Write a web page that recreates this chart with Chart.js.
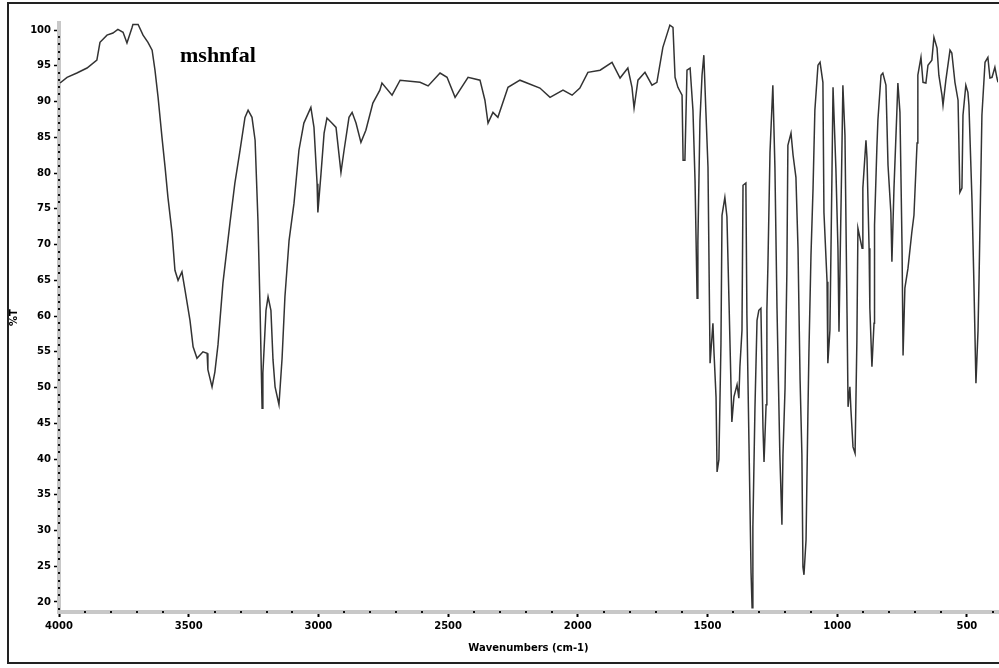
<!DOCTYPE html>
<html>
<head>
<meta charset="utf-8">
<script src="https://cdn.jsdelivr.net/npm/chart.js@4/dist/chart.umd.min.js"></script>
<style>
  html, body { margin: 0; padding: 0; background: #fff; }
  #spectrum { display: block; }
</style>
</head>
<body>
<canvas id="spectrum" width="999" height="668"></canvas>
<script>
// IR spectrum
const SAMPLE_NAME = 'mshnfal';

// wavenumbers (cm-1), high to low
const WAVENUMBER = [
  3996, 3969, 3931, 3892, 3854, 3842, 3815, 3792, 3773, 3753,
  3738, 3719, 3715, 3695, 3676, 3657, 3641, 3630, 3618, 3603,
  3591, 3580, 3564, 3553, 3541, 3526, 3514, 3495, 3483, 3468,
  3445, 3429, 3426, 3410, 3399, 3387, 3368, 3341, 3322, 3302,
  3283, 3271, 3256, 3244, 3233, 3225, 3217, 3214, 3202, 3194,
  3183, 3175, 3167, 3152, 3140, 3129, 3113, 3094, 3075, 3056,
  3029, 3017, 3005, 3002, 2990, 2978, 2967, 2948, 2932, 2913,
  2901, 2882, 2870, 2855, 2836, 2817, 2790, 2763, 2755, 2716,
  2685, 2608, 2577, 2531, 2504, 2473, 2423, 2377, 2358, 2346,
  2327, 2308, 2269, 2223, 2146, 2107, 2057, 2022, 1992, 1961,
  1914, 1868, 1837, 1807, 1791, 1783, 1768, 1741, 1714, 1695,
  1672, 1645, 1633, 1625, 1614, 1598, 1594, 1587, 1579, 1567,
  1556, 1548, 1540, 1537, 1529, 1521, 1514, 1506, 1498, 1490,
  1479, 1475, 1467, 1463, 1456, 1448, 1444, 1433, 1425, 1417,
  1406, 1398, 1386, 1379, 1375, 1367, 1363, 1352, 1348, 1340,
  1332, 1328, 1325, 1317, 1309, 1302, 1294, 1286, 1282, 1274,
  1271, 1267, 1259, 1248, 1240, 1232, 1221, 1213, 1209, 1201,
  1194, 1190, 1178, 1170, 1159, 1151, 1147, 1143, 1136, 1132,
  1128, 1120, 1113, 1109, 1101, 1093, 1086, 1074, 1066, 1055,
  1051, 1039, 1036, 1028, 1020, 1016, 1005, 997, 993, 989,
  982, 978, 970, 962, 958, 951, 947, 939, 931, 924,
  920, 904, 901, 889, 885, 877, 874, 866, 858, 856,
  847, 843, 831, 824, 812, 804, 793, 789, 781, 770,
  766, 758, 750, 746, 739, 727, 712, 704, 692, 689,
  677, 669, 658, 650, 635, 627, 615, 608, 596, 592,
  581, 565, 558, 546, 534, 527, 519, 515, 504, 496,
  492, 480, 473, 465, 457, 453, 442, 430, 419, 411,
  403, 392, 384, 380
];

// %T at each wavenumber
const TRANSMITTANCE = [
  92.6, 93.4, 94.0, 94.7, 95.8, 98.3, 99.3, 99.6, 100.1, 99.7,
  98.2, 100.3, 100.8, 100.8, 99.3, 98.3, 97.2, 94.4, 90.6, 85.0,
  80.8, 76.6, 71.6, 66.4, 65.0, 66.2, 63.6, 59.4, 55.7, 54.1,
  55.0, 54.8, 52.5, 50.1, 52.2, 56.0, 64.6, 73.0, 78.6, 83.2,
  87.8, 88.8, 87.8, 84.6, 73.4, 61.3, 47.1, 52.0, 60.8, 62.7,
  60.8, 53.9, 50.1, 47.6, 54.1, 62.7, 70.6, 75.8, 83.2, 87.0,
  89.2, 86.4, 78.5, 74.5, 79.9, 85.6, 87.7, 87.0, 86.4, 80.1,
  83.2, 87.8, 88.5, 87.0, 84.3, 86.0, 89.8, 91.6, 92.6, 90.9,
  93.0, 92.7, 92.2, 94.0, 93.4, 90.6, 93.4, 93.0, 90.2, 87.0,
  88.5, 87.8, 92.0, 93.0, 91.9, 90.6, 91.6, 90.9, 91.9, 94.1,
  94.4, 95.5, 93.3, 94.7, 92.0, 89.1, 93.0, 94.1, 92.3, 92.7,
  97.6, 100.7, 100.4, 93.4, 92.0, 90.9, 81.8, 81.8, 94.4, 94.7,
  88.8, 79.0, 62.5, 70.4, 87.4, 93.7, 96.5, 88.5, 80.8, 53.4,
  59.0, 55.0, 48.7, 38.2, 39.9, 56.2, 74.1, 76.6, 73.9, 62.0,
  45.2, 48.7, 50.4, 48.5, 52.9, 58.0, 78.3, 78.6, 60.1, 42.2,
  24.1, 19.2, 30.5, 47.1, 59.4, 60.8, 61.1, 44.3, 39.6, 47.6,
  60.8, 67.1, 82.9, 92.3, 80.8, 61.1, 40.6, 30.8, 40.6, 49.9,
  66.0, 83.9, 85.6, 82.5, 79.4, 69.5, 60.1, 51.1, 40.6, 24.9,
  23.8, 28.7, 45.9, 54.8, 68.5, 77.9, 88.8, 95.1, 95.5, 92.7,
  74.5, 64.8, 53.4, 58.0, 80.1, 92.0, 80.7, 69.5, 57.8, 66.9,
  82.5, 92.3, 85.3, 60.4, 47.3, 50.1, 46.9, 41.7, 40.8, 56.6,
  72.3, 69.5, 77.9, 84.6, 82.1, 69.5, 61.1, 52.9, 59.0, 72.7,
  83.5, 87.4, 93.7, 94.0, 92.3, 81.1, 74.5, 67.6, 77.9, 88.5,
  92.6, 88.5, 69.9, 54.5, 63.9, 66.7, 71.8, 74.1, 84.2, 93.7,
  96.2, 92.7, 92.6, 95.1, 95.8, 99.0, 97.5, 93.7, 90.9, 89.5,
  93.0, 97.2, 96.8, 92.7, 90.2, 77.3, 77.9, 88.1, 92.3, 91.3,
  89.5, 75.9, 64.8, 50.6, 58.0, 65.3, 88.1, 95.5, 96.2, 93.3,
  93.4, 94.8, 93.3, 92.7
];

const X_TICKS = [4000, 3500, 3000, 2500, 2000, 1500, 1000, 500];
const Y_TICKS = [20, 25, 30, 35, 40, 45, 50, 55, 60, 65, 70, 75, 80, 85, 90, 95, 100];

const X_RANGE = { min: 380, max: 4000 };
const Y_RANGE = { min: 18.6, max: 101 };

Chart.defaults.font.family = "'DejaVu Sans', sans-serif";
Chart.defaults.color = '#000';

const AXIS_FONT = { family: "'DejaVu Sans', sans-serif", size: 10, weight: 'bold' };

// white page, minor dots on the axes, outer frame, sample label
const decorPlugin = {
  id: 'decor',
  beforeDraw(chart) {
    const ctx = chart.ctx;
    ctx.save();
    ctx.fillStyle = '#fff';
    ctx.fillRect(0, 0, chart.width, chart.height);
    ctx.restore();
  },
  afterDraw(chart) {
    const ctx = chart.ctx;
    const area = chart.chartArea;
    const xs = chart.scales.x;
    const ys = chart.scales.y;
    ctx.save();

    // minor dots
    ctx.fillStyle = '#111';
    for (let v = 19; v <= 100; v++) {
      if (v % 5 === 0) continue;
      const py = Math.round(ys.getPixelForValue(v));
      ctx.fillRect(area.left - 1, py - 1, 2, 2);
    }
    for (let w = 400; w < 4000; w += 100) {
      if (w % 500 === 0) continue;
      const px = Math.round(xs.getPixelForValue(w));
      ctx.fillRect(px - 1, area.bottom - 1, 2, 2);
    }

    // frame round the whole picture
    ctx.strokeStyle = '#222';
    ctx.lineWidth = 2;
    ctx.strokeRect(8, 3, 1000, 660);

    // sample name
    ctx.fillStyle = '#000';
    ctx.font = "bold 22px 'Liberation Serif', serif";
    ctx.textBaseline = 'alphabetic';
    ctx.fillText(SAMPLE_NAME, 180, 62);
    ctx.restore();
  }
};

function buildPoints() {
  return WAVENUMBER.map((w, i) => ({ x: w, y: TRANSMITTANCE[i] }));
}

// plain numbers, no thousands separator
const plainLabel = (value) => String(value);

const chart = new Chart(document.getElementById('spectrum'), {
  type: 'line',
  data: {
    datasets: [{
      data: buildPoints(),
      borderColor: '#333',
      borderWidth: 1.5,
      pointRadius: 0,
      tension: 0,
      fill: false
    }]
  },
  options: {
    responsive: false,
    animation: false,
    layout: { padding: { left: 0, right: 1, top: 23, bottom: 0 } },
    plugins: {
      legend: { display: false },
      tooltip: { enabled: false }
    },
    scales: {
      x: {
        type: 'linear',
        reverse: true,
        min: X_RANGE.min,
        max: X_RANGE.max,
        afterBuildTicks: (s) => { s.ticks = X_TICKS.map(v => ({ value: v })); },
        afterFit: (s) => { s.height = 56; },
        ticks: { font: AXIS_FONT, color: '#000', padding: 3, maxRotation: 0, autoSkip: false, callback: plainLabel },
        grid: { drawOnChartArea: false, drawTicks: true, tickLength: 5, tickColor: '#000', tickWidth: 2 },
        border: { color: '#c8c8c8', width: 4 },
        title: {
          display: true,
          text: 'Wavenumbers (cm-1)',
          font: AXIS_FONT,
          color: '#000',
          padding: { top: 0, bottom: 14 }
        }
      },
      y: {
        type: 'linear',
        min: Y_RANGE.min,
        max: Y_RANGE.max,
        afterBuildTicks: (s) => { s.ticks = Y_TICKS.map(v => ({ value: v })); },
        afterFit: (s) => { s.width = 59; },
        ticks: { font: AXIS_FONT, color: '#000', padding: 3, autoSkip: false, callback: plainLabel },
        grid: { drawOnChartArea: false, drawTicks: true, tickLength: 5, tickColor: '#000', tickWidth: 1.5 },
        border: { color: '#c8c8c8', width: 4 },
        title: {
          display: true,
          text: '%T',
          font: AXIS_FONT,
          color: '#000',
          padding: { top: 8, bottom: 0 }
        }
      }
    }
  },
  plugins: [decorPlugin]
});
</script>
</body>
</html>
